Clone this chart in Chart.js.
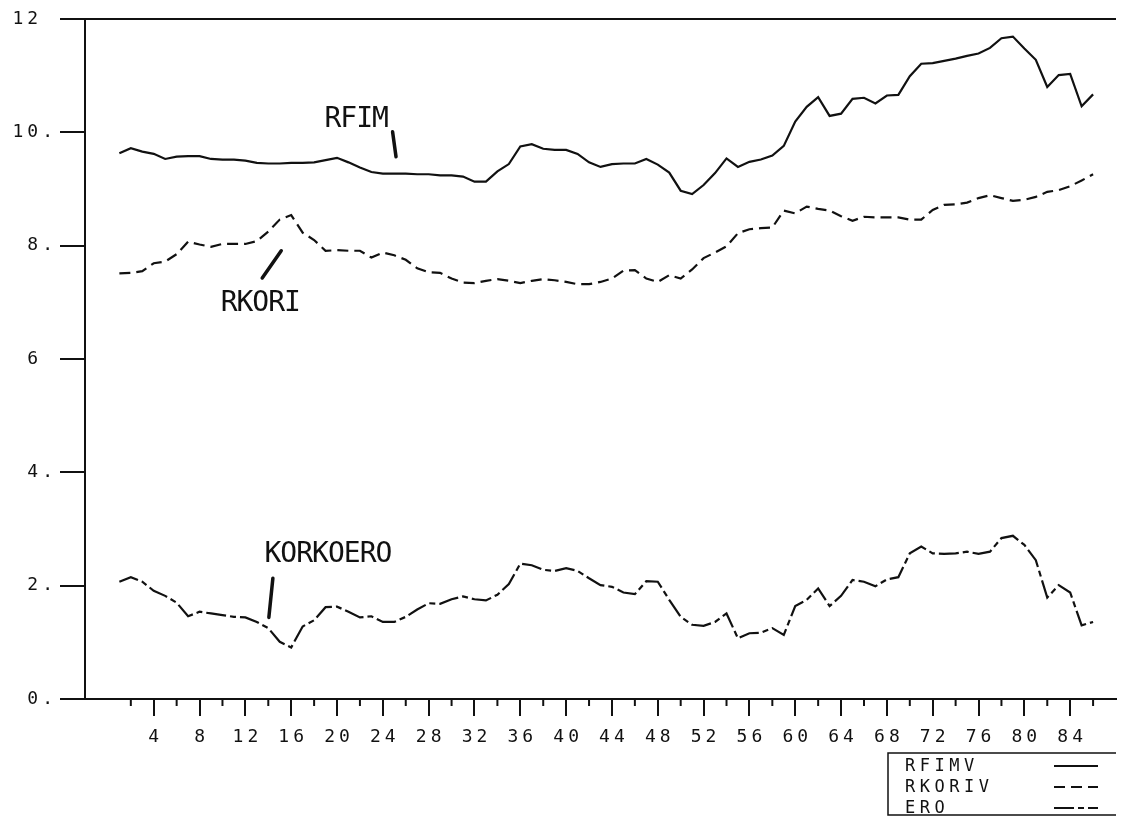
<!DOCTYPE html>
<html>
<head>
<meta charset="utf-8">
<title>RFIMV, RKORIV, ERO</title>
<script src="https://cdn.jsdelivr.net/npm/chart.js@4.4.0/dist/chart.umd.min.js"></script>
<style>
  html, body { margin: 0; padding: 0; background: #fff; }
  #chart { display: block; }
</style>
</head>
<body>
<canvas id="chart" width="1137" height="817"></canvas>
<script>
// Quarter index (x axis)
const periods = [
    1, 2, 3, 4, 5, 6, 7, 8, 9, 10, 11, 12, 13, 14, 15, 16, 17, 18, 19, 20,
    21, 22, 23, 24, 25, 26, 27, 28, 29, 30, 31, 32, 33, 34, 35, 36, 37, 38, 39, 40,
    41, 42, 43, 44, 45, 46, 47, 48, 49, 50, 51, 52, 53, 54, 55, 56, 57, 58, 59, 60,
    61, 62, 63, 64, 65, 66, 67, 68, 69, 70, 71, 72, 73, 74, 75, 76, 77, 78, 79, 80,
    81, 82, 83, 84, 85, 86
];

const rfimv = [
    9.63, 9.72, 9.66, 9.62, 9.53, 9.57, 9.58, 9.58, 9.53, 9.52,
    9.52, 9.50, 9.46, 9.45, 9.45, 9.46, 9.46, 9.47, 9.51, 9.55,
    9.47, 9.38, 9.30, 9.27, 9.27, 9.27, 9.26, 9.26, 9.24, 9.24,
    9.22, 9.13, 9.13, 9.31, 9.44, 9.75, 9.79, 9.71, 9.69, 9.69,
    9.62, 9.47, 9.39, 9.44, 9.45, 9.45, 9.53, 9.43, 9.29, 8.97,
    8.91, 9.07, 9.28, 9.54, 9.39, 9.48, 9.52, 9.59, 9.76, 10.19,
    10.45, 10.62, 10.29, 10.33, 10.59, 10.61, 10.51, 10.65, 10.66, 10.99,
    11.21, 11.22, 11.26, 11.30, 11.35, 11.39, 11.49, 11.66, 11.69, 11.48,
    11.28, 10.80, 11.01, 11.03, 10.46, 10.67
];

const rkoriv = [
    7.51, 7.52, 7.55, 7.69, 7.72, 7.85, 8.07, 8.02, 7.98, 8.03,
    8.03, 8.03, 8.08, 8.25, 8.46, 8.54, 8.23, 8.10, 7.91, 7.92,
    7.91, 7.91, 7.79, 7.88, 7.83, 7.75, 7.60, 7.53, 7.52, 7.42,
    7.35, 7.34, 7.38, 7.41, 7.38, 7.34, 7.38, 7.41, 7.39, 7.36,
    7.32, 7.32, 7.36, 7.42, 7.56, 7.57, 7.42, 7.36, 7.48, 7.42,
    7.58, 7.78, 7.88, 7.99, 8.22, 8.29, 8.31, 8.32, 8.62, 8.57,
    8.69, 8.65, 8.62, 8.52, 8.44, 8.51, 8.50, 8.50, 8.50, 8.46,
    8.46, 8.63, 8.72, 8.73, 8.76, 8.84, 8.89, 8.84, 8.79, 8.81,
    8.86, 8.95, 8.98, 9.05, 9.15, 9.26
];

const ero = [
    2.07, 2.15, 2.07, 1.91, 1.82, 1.70, 1.46, 1.54, 1.51, 1.48,
    1.45, 1.44, 1.36, 1.25, 1.01, 0.91, 1.28, 1.39, 1.62, 1.63,
    1.54, 1.44, 1.46, 1.36, 1.36, 1.45, 1.58, 1.69, 1.68, 1.76,
    1.81, 1.76, 1.74, 1.84, 2.03, 2.39, 2.36, 2.28, 2.26, 2.31,
    2.26, 2.13, 2.01, 1.98, 1.88, 1.85, 2.08, 2.07, 1.75, 1.45,
    1.31, 1.29, 1.36, 1.51, 1.07, 1.16, 1.17, 1.25, 1.13, 1.64,
    1.75, 1.95, 1.64, 1.82, 2.10, 2.07, 1.99, 2.11, 2.15, 2.57,
    2.69, 2.57, 2.56, 2.57, 2.60, 2.56, 2.60, 2.84, 2.88, 2.72,
    2.45, 1.79, 2.01, 1.88, 1.30, 1.36
];

const seriesNames = ['RFIMV', 'RKORIV', 'ERO'];
const calloutNames = ['RFIM', 'RKORI', 'KORKOERO'];

// Tick labels
const xMajorTicks = [4, 8, 12, 16, 20, 24, 28, 32, 36, 40, 44, 48, 52, 56, 60, 64, 68, 72, 76, 80, 84];
const xMinorTicks = [2, 6, 10, 14, 18, 22, 26, 30, 34, 38, 42, 46, 50, 54, 58, 62, 66, 70, 74, 78, 82, 86];
const yTickValues = [0, 2, 4, 6, 8, 10, 12];
const yTickLabels = ['0.', '2.', '4.', '6 ', '8.', '10.', '12 '];

const INK = '#111';
const MONO = "'DejaVu Sans Mono', 'Liberation Mono', monospace";
const TICK_SPACING = 4;

// dash styles: solid / dashed / dash-dot
const dashStyles = [[], [11, 6], [20, 4, 6, 4]];

// callout placement in data units (label anchor, pointer start, pointer end)
const calloutPlacement = [
    { x: 18.9, y: 10.09, from: [24.85, 10.01], to: [25.15, 9.57] },
    { x: 9.84, y: 6.85, from: [15.13, 7.91], to: [13.47, 7.43] },
    { x: 13.67, y: 2.42, from: [14.4, 2.13], to: [14.05, 1.44] }
];

function toPoints(values) {
    return values.map((v, i) => ({ x: periods[i], y: v }));
}

// Frame, minor ticks, hand-lettered callouts and the boxed legend
const plotterPlugin = {
    id: 'plotter',
    beforeDraw(chart) {
        chart.ctx.letterSpacing = TICK_SPACING + 'px';
    },
    afterDraw(chart) {
        const ctx = chart.ctx;
        const area = chart.chartArea;
        const xs = chart.scales.x;
        const ys = chart.scales.y;

        ctx.save();
        ctx.strokeStyle = INK;
        ctx.fillStyle = INK;

        // top frame line
        ctx.lineWidth = 2;
        ctx.beginPath();
        ctx.moveTo(area.left, area.top);
        ctx.lineTo(area.right, area.top);
        ctx.stroke();

        // minor ticks on x axis
        xMinorTicks.forEach(v => {
            const px = xs.getPixelForValue(v);
            ctx.beginPath();
            ctx.moveTo(px, area.bottom);
            ctx.lineTo(px, area.bottom + 7);
            ctx.stroke();
        });

        // callouts
        ctx.letterSpacing = '-1px';
        ctx.font = "28px " + MONO;
        ctx.textAlign = 'left';
        ctx.textBaseline = 'alphabetic';
        ctx.lineCap = 'round';
        calloutNames.forEach((name, i) => {
            const c = calloutPlacement[i];
            ctx.fillText(name, xs.getPixelForValue(c.x), ys.getPixelForValue(c.y));
            ctx.lineWidth = 3.5;
            ctx.beginPath();
            ctx.moveTo(xs.getPixelForValue(c.from[0]), ys.getPixelForValue(c.from[1]));
            ctx.lineTo(xs.getPixelForValue(c.to[0]), ys.getPixelForValue(c.to[1]));
            ctx.stroke();
        });

        // legend box
        const boxLeft = area.right - 228;
        const boxTop = 753;
        const boxBottom = 815;
        ctx.lineCap = 'butt';
        ctx.lineWidth = 1.5;
        ctx.beginPath();
        ctx.moveTo(area.right, boxTop);
        ctx.lineTo(boxLeft, boxTop);
        ctx.lineTo(boxLeft, boxBottom);
        ctx.lineTo(area.right, boxBottom);
        ctx.stroke();

        ctx.letterSpacing = '4.5px';
        ctx.font = "17px " + MONO;
        chart.data.datasets.forEach((ds, i) => {
            const base = 771 + i * 21;
            ctx.fillText(ds.label, boxLeft + 17, base);
            ctx.setLineDash(ds.borderDash || []);
            ctx.lineWidth = 2;
            ctx.beginPath();
            ctx.moveTo(area.right - 62, base - 5);
            ctx.lineTo(area.right - 18, base - 5);
            ctx.stroke();
        });
        ctx.setLineDash([]);
        ctx.restore();
        ctx.letterSpacing = '0px';
    }
};

const datasetDefaults = {
    borderColor: INK,
    borderWidth: 2.2,
    pointRadius: 0,
    tension: 0,
    fill: false
};

new Chart(document.getElementById('chart'), {
    type: 'line',
    data: {
        datasets: [
            { ...datasetDefaults, label: seriesNames[0], data: toPoints(rfimv), borderDash: dashStyles[0] },
            { ...datasetDefaults, label: seriesNames[1], data: toPoints(rkoriv), borderDash: dashStyles[1] },
            { ...datasetDefaults, label: seriesNames[2], data: toPoints(ero), borderDash: dashStyles[2] }
        ]
    },
    options: {
        responsive: false,
        animation: false,
        events: [],
        layout: { padding: { top: 19, right: 21, left: 0, bottom: 0 } },
        plugins: {
            legend: { display: false },
            tooltip: { enabled: false }
        },
        scales: {
            x: {
                type: 'linear',
                min: -2,
                max: 88,
                afterFit: scale => { scale.height = 118; },
                border: { display: true, color: INK, width: 2 },
                grid: {
                    drawOnChartArea: false,
                    drawTicks: true,
                    tickLength: 17,
                    lineWidth: 2,
                    color: ctx => (ctx.tick && xMajorTicks.includes(ctx.tick.value)) ? INK : 'rgba(0,0,0,0)'
                },
                ticks: {
                    stepSize: 4,
                    autoSkip: false,
                    maxRotation: 0,
                    padding: 11,
                    labelOffset: TICK_SPACING / 2,
                    color: INK,
                    font: { family: MONO, size: 18 },
                    callback: v => xMajorTicks.includes(v) ? String(v) : ''
                }
            },
            y: {
                min: 0,
                max: 12,
                afterFit: scale => { scale.width = 85; },
                border: { display: true, color: INK, width: 2 },
                grid: {
                    drawOnChartArea: false,
                    drawTicks: true,
                    tickLength: 25,
                    lineWidth: 2,
                    color: INK
                },
                ticks: {
                    stepSize: 2,
                    padding: 3,
                    color: INK,
                    font: { family: MONO, size: 18 },
                    callback: v => {
                        const i = yTickValues.indexOf(v);
                        return i >= 0 ? yTickLabels[i] : '';
                    }
                }
            }
        }
    },
    plugins: [plotterPlugin]
});
</script>
</body>
</html>
